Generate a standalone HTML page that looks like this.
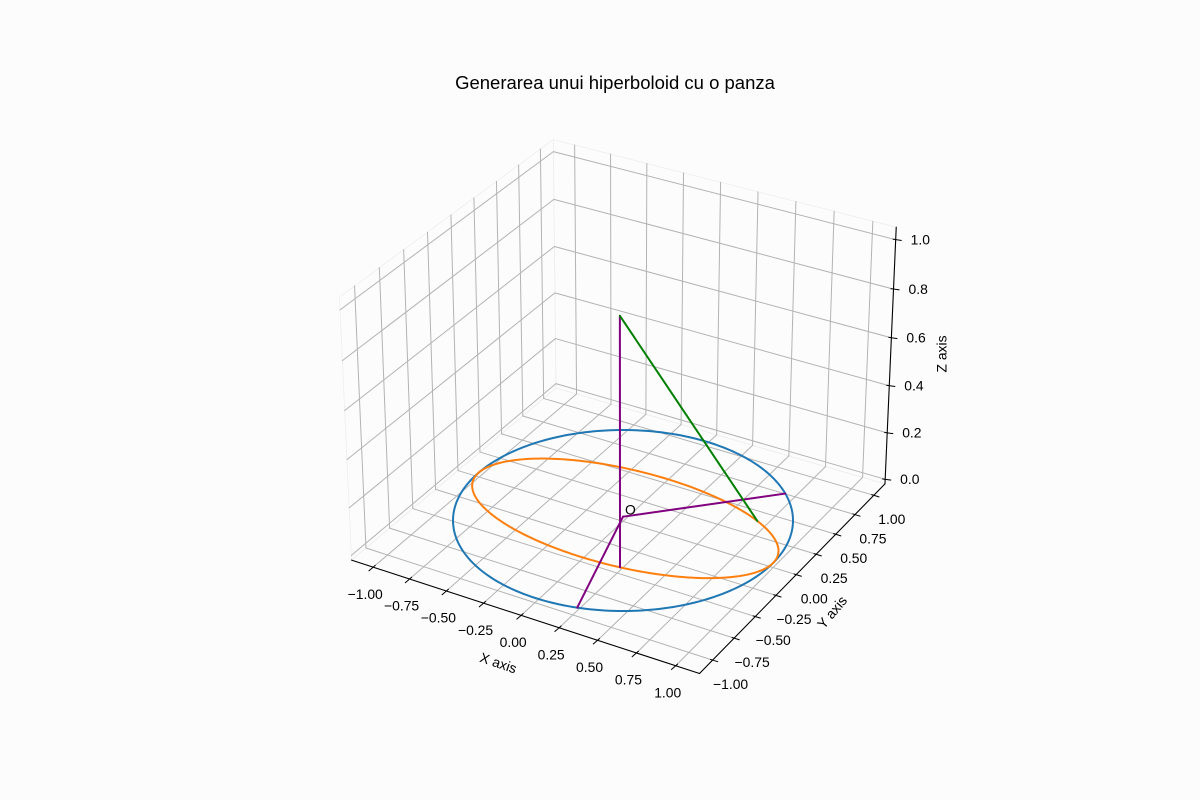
<!DOCTYPE html>
<html><head><meta charset="utf-8"><style>
html,body{margin:0;padding:0;background:#fcfcfc;}
svg{display:block;font-family:"Liberation Sans","DejaVu Sans",sans-serif;}
</style></head><body>
<svg id="chart" width="1200" height="800" viewBox="0 0 1200 800" xmlns="http://www.w3.org/2000/svg">
<rect x="0" y="0" width="1200" height="800" fill="#fcfcfc"/>
<g id="panes"></g>
<g id="grid"></g>
<g id="axes"></g>
<g id="series"></g>
<text x="615" y="89" text-anchor="middle" font-size="18.5" fill="#000">Generarea unui hiperboloid cu o panza</text>
<text x="0" y="0" transform="translate(498,664) rotate(19)" text-anchor="middle" dominant-baseline="middle" font-size="13.9">X axis</text>
<text x="0" y="0" transform="translate(833,613) rotate(-50)" text-anchor="middle" dominant-baseline="middle" font-size="13.9">Y axis</text>
<text x="0" y="0" transform="translate(943,354) rotate(-90)" text-anchor="middle" dominant-baseline="middle" font-size="13.9">Z axis</text>
</svg>
<script>
// ---- data ----
const xTicks = [-1, -0.75, -0.5, -0.25, 0, 0.25, 0.5, 0.75, 1];
const xTickLabels = ['−1.00','−0.75','−0.50','−0.25','0.00','0.25','0.50','0.75','1.00'];
const yTicks = [-1, -0.75, -0.5, -0.25, 0, 0.25, 0.5, 0.75, 1];
const yTickLabels = ['−1.00','−0.75','−0.50','−0.25','0.00','0.25','0.50','0.75','1.00'];
const zTicks = [0, 0.2, 0.4, 0.6, 0.8, 1.0];
const zTickLabels = ['0.0','0.2','0.4','0.6','0.8','1.0'];
const blueCircle = [1, 1, 0];          // semi-axis a, semi-axis b, z level
const orangeEllipse = [1, 0.5, 0];     // semi-axis a, semi-axis b, z level
const purpleStart = [[0,0,0],[0,0,0],[0.259,-0.483,0]];
const purpleEnd   = [[0.707,0.707,0],[0.259,-0.966,0],[0.259,-0.483,1.02]];
const greenStart = [0.259,-0.483,1.02];
const greenEnd   = [0.707,0.354,0];
const originLabel = [0,0,0];

// ---- projection (matplotlib-like, elev 30, azim -60, persp) ----
const XL=[-1.15,1.15], YL=[-1.15,1.15], ZL=[-0.02,1.05];
const asp=[4,4,3]; const an=Math.hypot(4,4,3); const B=asp.map(a=>a*1.8294640721620434/an);
const el=30*Math.PI/180, az=-60*Math.PI/180;
const Rc=[B[0]/2,B[1]/2,B[2]/2];
const dir=[Math.cos(el)*Math.cos(az),Math.cos(el)*Math.sin(az),Math.sin(el)];
const eye=Rc.map((r,i)=>r+10*dir[i]);
function cross(a,b){return [a[1]*b[2]-a[2]*b[1],a[2]*b[0]-a[0]*b[2],a[0]*b[1]-a[1]*b[0]];}
function nrm(a){const n=Math.hypot(a[0],a[1],a[2]);return a.map(v=>v/n);}
const W=nrm(dir), U=nrm(cross([0,0,1],W)), V=cross(W,U);
function raw(p){
  const q=[(p[0]-XL[0])/(XL[1]-XL[0])*B[0],(p[1]-YL[0])/(YL[1]-YL[0])*B[1],(p[2]-ZL[0])/(ZL[1]-ZL[0])*B[2]];
  const d=[q[0]-eye[0],q[1]-eye[1],q[2]-eye[2]];
  const X=U[0]*d[0]+U[1]*d[1]+U[2]*d[2], Y=V[0]*d[0]+V[1]*d[1]+V[2]*d[2], Z=W[0]*d[0]+W[1]*d[1]+W[2]*d[2];
  return [X/(-Z),Y/(-Z)];
}
// calibration with a fixed reference unit circle (not data)
let mnx=1e9,mxx=-1e9,mny=1e9,mxy=-1e9;
for(let i=0;i<720;i++){const t=i/720*2*Math.PI;const r=raw([Math.cos(t),Math.sin(t),0]);
  mnx=Math.min(mnx,r[0]);mxx=Math.max(mxx,r[0]);mny=Math.min(mny,r[1]);mxy=Math.max(mxy,r[1]);}
const sx=340/(mxx-mnx), ox=453-sx*mnx, sy=181/(mxy-mny), oy=430+sy*mxy;
function P(p){const r=raw(p);return [ox+sx*r[0], oy-sy*r[1]];}

const NS='http://www.w3.org/2000/svg';
function line(g,a,b,stroke,w,name){const l=document.createElementNS(NS,'line');const p=P(a),q=P(b);
  l.setAttribute('x1',p[0]);l.setAttribute('y1',p[1]);l.setAttribute('x2',q[0]);l.setAttribute('y2',q[1]);
  l.setAttribute('stroke',stroke);l.setAttribute('stroke-width',w);l.setAttribute('stroke-linecap','round');
  
  
  g.appendChild(l);return l;}
function slineS(g,p,q,stroke,w,name){const l=document.createElementNS(NS,'line');
  l.setAttribute('x1',p[0]);l.setAttribute('y1',p[1]);l.setAttribute('x2',q[0]);l.setAttribute('y2',q[1]);
  l.setAttribute('stroke',stroke);l.setAttribute('stroke-width',w);
  
  
  g.appendChild(l);}
function text(g,x,y,s,anchor,name){const t=document.createElementNS(NS,'text');
  t.setAttribute('x',x);t.setAttribute('y',y);t.setAttribute('font-size','13.9');t.setAttribute('text-anchor',anchor);
  t.setAttribute('dominant-baseline','middle');t.textContent=s;
  
  
  g.appendChild(t);}
function poly(g,pts,fill,stroke,name){const e=document.createElementNS(NS,'polygon');
  e.setAttribute('points',pts.map(p=>P(p).join(',')).join(' '));e.setAttribute('fill',fill);e.setAttribute('stroke',stroke);e.setAttribute('stroke-width','0.8');
  
  
  g.appendChild(e);}

const panes=document.getElementById('panes'), grid=document.getElementById('grid'), axes=document.getElementById('axes'), series=document.getElementById('series');
const [x0,x1]=XL,[y0,y1]=YL,[z0,z1]=ZL;
poly(panes,[[x0,y0,z0],[x1,y0,z0],[x1,y1,z0],[x0,y1,z0]],'none','#eeeeee','floor-pane');
poly(panes,[[x0,y0,z0],[x0,y1,z0],[x0,y1,z1],[x0,y0,z1]],'none','#eeeeee','left-pane');
poly(panes,[[x0,y1,z0],[x1,y1,z0],[x1,y1,z1],[x0,y1,z1]],'none','#eeeeee','back-pane');

const GC='#b3b3b3', GW=1;
xTicks.forEach(x=>{line(grid,[x,y0,z0],[x,y1,z0],GC,GW,'floor-gridline-x');line(grid,[x,y1,z0],[x,y1,z1],GC,GW,'back-gridline-x');});
yTicks.forEach(y=>{line(grid,[x0,y,z0],[x1,y,z0],GC,GW,'floor-gridline-y');line(grid,[x0,y,z0],[x0,y,z1],GC,GW,'left-gridline-y');});
zTicks.forEach(z=>{line(grid,[x0,y0,z],[x0,y1,z],GC,GW,'left-gridline-z');line(grid,[x0,y1,z],[x1,y1,z],GC,GW,'back-gridline-z');});

// axis lines
line(axes,[x0,y0,z0],[x1,y0,z0],'#000',1.1,'x-axis-line');
line(axes,[x1,y0,z0],[x1,y1,z0],'#000',1.1,'y-axis-line');
line(axes,[x1,y1,z0],[x1,y1,z1],'#000',1.1,'z-axis-line');
xTicks.forEach((x,i)=>{const p=P([x,y0,z0]);
  slineS(axes,[p[0]+2.3,p[1]-2],[p[0]-4.6,p[1]+4],'#000',1,'x-tick');
  text(axes,p[0]-8,p[1]+28,xTickLabels[i],'middle','x-tick-label');});
yTicks.forEach((y,i)=>{const p=P([x1,y,z0]);
  slineS(axes,[p[0]-2.5,p[1]-0.8],[p[0]+5.5,p[1]+1.7],'#000',1,'y-tick');
  text(axes,p[0]+18,p[1]+25,yTickLabels[i],'middle','y-tick-label');});
zTicks.forEach((z,i)=>{const p=P([x1,y1,z]);
  slineS(axes,[p[0]-3,p[1]-0.5],[p[0]+6,p[1]+0.8],'#000',1,'z-tick');
  text(axes,p[0]+15,p[1]+1,zTickLabels[i],'start','z-tick-label');});

// series
function curve(spec,color,name){const pts=[];for(let i=0;i<=240;i++){const t=i/240*2*Math.PI;pts.push(P([spec[0]*Math.cos(t),spec[1]*Math.sin(t),spec[2]]));}
  const e=document.createElementNS(NS,'polyline');e.setAttribute('points',pts.map(p=>p.join(',')).join(' '));
  e.setAttribute('fill','none');e.setAttribute('stroke',color);e.setAttribute('stroke-width','2');
  
  
  series.appendChild(e);}
curve(blueCircle,'#1f77b4','blue-circle');
curve(orangeEllipse,'#ff7f0e','orange-ellipse');
purpleStart.forEach((s,i)=>line(series,s,purpleEnd[i],'#800080',2,'purple-segment'));
line(series,greenStart,greenEnd,'#008000',2,'green-segment');
const op=P(originLabel);
text(series,op[0]+2,op[1]-6,'O','start','origin-label');
</script>
</body></html>
